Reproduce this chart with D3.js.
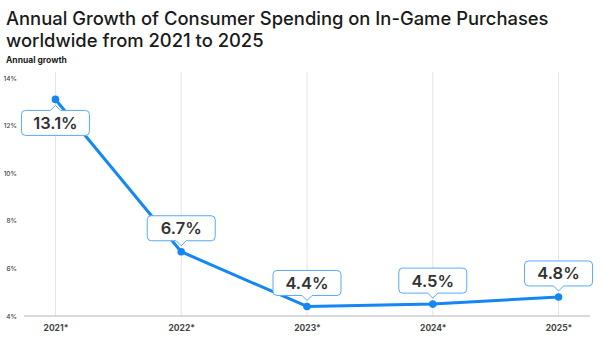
<!DOCTYPE html>
<html>
<head>
<meta charset="utf-8">
<script src="https://cdn.jsdelivr.net/npm/d3@7"></script>
<style>
  body { margin: 0; background: #fff; }
  svg { font-family: Inter, "Noto Sans", sans-serif; }
</style>
</head>
<body>
<div id="chart"></div>
<script>
const years = ["2021*", "2022*", "2023*", "2024*", "2025*"]
const growth = [13.1, 6.7, 4.4, 4.5, 4.8]
const yTicks = [4, 6, 8, 10, 12, 14]
// label sits below the point only where it would hit the top
const labelBelow = [true, false, false, false, false]

const width = 602
const height = 342
const lineColor = "#1487f4"
const boxColor = "#5aaaf7"

const svg = d3.select("#chart").append("svg")
    .attr("width", width)
    .attr("height", height)

svg.append("text")
    .attr("x", 6).attr("y", 25)
    .attr("font-size", 18.4).attr("font-weight", 500).attr("fill", "#1a1a1a")
    .text("Annual Growth of Consumer Spending on In-Game Purchases")
svg.append("text")
    .attr("x", 6).attr("y", 47)
    .attr("font-size", 18.4).attr("font-weight", 500).attr("fill", "#1a1a1a")
    .text("worldwide from 2021 to 2025")
svg.append("text")
    .attr("x", 6).attr("y", 63)
    .attr("font-size", 8.5).attr("font-weight", 700).attr("fill", "#222")
    .text("Annual growth")

const x = d3.scalePoint()
    .domain(years)
    .range([24, 590])
    .padding(0.25)

const y = d3.scaleLinear()
    .domain([4, 14])
    .range([316, 78])

// vertical grid lines
svg.append("g")
    .selectAll("line")
    .data(years)
    .join("line")
        .attr("x1", d => x(d)).attr("x2", d => x(d))
        .attr("y1", 72).attr("y2", 316)
        .attr("stroke", "#e4e4e4")
        .attr("stroke-width", 1)

// y tick labels
svg.append("g")
    .selectAll("text")
    .data(yTicks)
    .join("text")
        .attr("x", 17)
        .attr("y", d => y(d) + 2.5)
        .attr("text-anchor", "end")
        .attr("font-size", 6.5)
        .attr("font-weight", 500)
        .attr("fill", "#444")
        .text(d => d + "%")

// bottom axis
const xAxis = svg.append("g")
    .attr("transform", "translate(0,316)")
    .call(d3.axisBottom(x).tickSize(0).tickPadding(9))
xAxis.select(".domain")
    .attr("d", "M24,0H590")
    .attr("stroke", "#b5b5b5")
    .attr("stroke-width", 1.2)
xAxis.selectAll("text")
    .attr("font-size", 8.5)
    .attr("font-weight", 700)
    .attr("fill", "#444")
    .attr("font-family", "Inter, sans-serif")

const line = d3.line()
    .x((d, i) => x(years[i]))
    .y(d => y(d))

svg.append("path")
    .datum(growth)
    .attr("d", line)
    .attr("fill", "none")
    .attr("stroke", lineColor)
    .attr("stroke-width", 3)
    .attr("stroke-linejoin", "round")

svg.append("g")
    .selectAll("circle")
    .data(growth)
    .join("circle")
        .attr("cx", (d, i) => x(years[i]))
        .attr("cy", d => y(d))
        .attr("r", 3.8)
        .attr("fill", lineColor)

// callout boxes with a small pointer
const boxW = 68, boxH = 25, gap = 11, tip = 5, r = 4

function calloutPath(below) {
    const w = boxW / 2
    if (below) {
        // pointer on top edge, tip at origin
        const t = tip
        return `M0,0 L${t},${t} H${w - r} Q${w},${t} ${w},${t + r} V${t + boxH - r}` +
            ` Q${w},${t + boxH} ${w - r},${t + boxH} H${-w + r} Q${-w},${t + boxH} ${-w},${t + boxH - r}` +
            ` V${t + r} Q${-w},${t} ${-w + r},${t} H${-t} Z`
    }
    const t = -tip
    return `M0,0 L${tip},${t} H${w - r} Q${w},${t} ${w},${t - r} V${t - boxH + r}` +
        ` Q${w},${t - boxH} ${w - r},${t - boxH} H${-w + r} Q${-w},${t - boxH} ${-w},${t - boxH + r}` +
        ` V${t - r} Q${-w},${t} ${-w + r},${t} H${-tip} Z`
}

const labels = svg.append("g")
    .selectAll("g")
    .data(growth)
    .join("g")
        .attr("transform", (d, i) => {
            const py = y(d) + (labelBelow[i] ? gap - tip : -(gap - tip))
            return `translate(${x(years[i])},${py})`
        })

labels.append("path")
    .attr("d", (d, i) => calloutPath(labelBelow[i]))
    .attr("fill", "#fff")
    .attr("stroke", boxColor)
    .attr("stroke-width", 1)

labels.append("text")
    .attr("y", (d, i) => labelBelow[i] ? tip + boxH / 2 + 6 : -tip - boxH / 2 + 6)
    .attr("text-anchor", "middle")
    .attr("font-size", 16.5)
    .attr("font-weight", 600)
    .attr("fill", "#333")
    .text(d => d.toFixed(1) + "%")
</script>
</body>
</html>
